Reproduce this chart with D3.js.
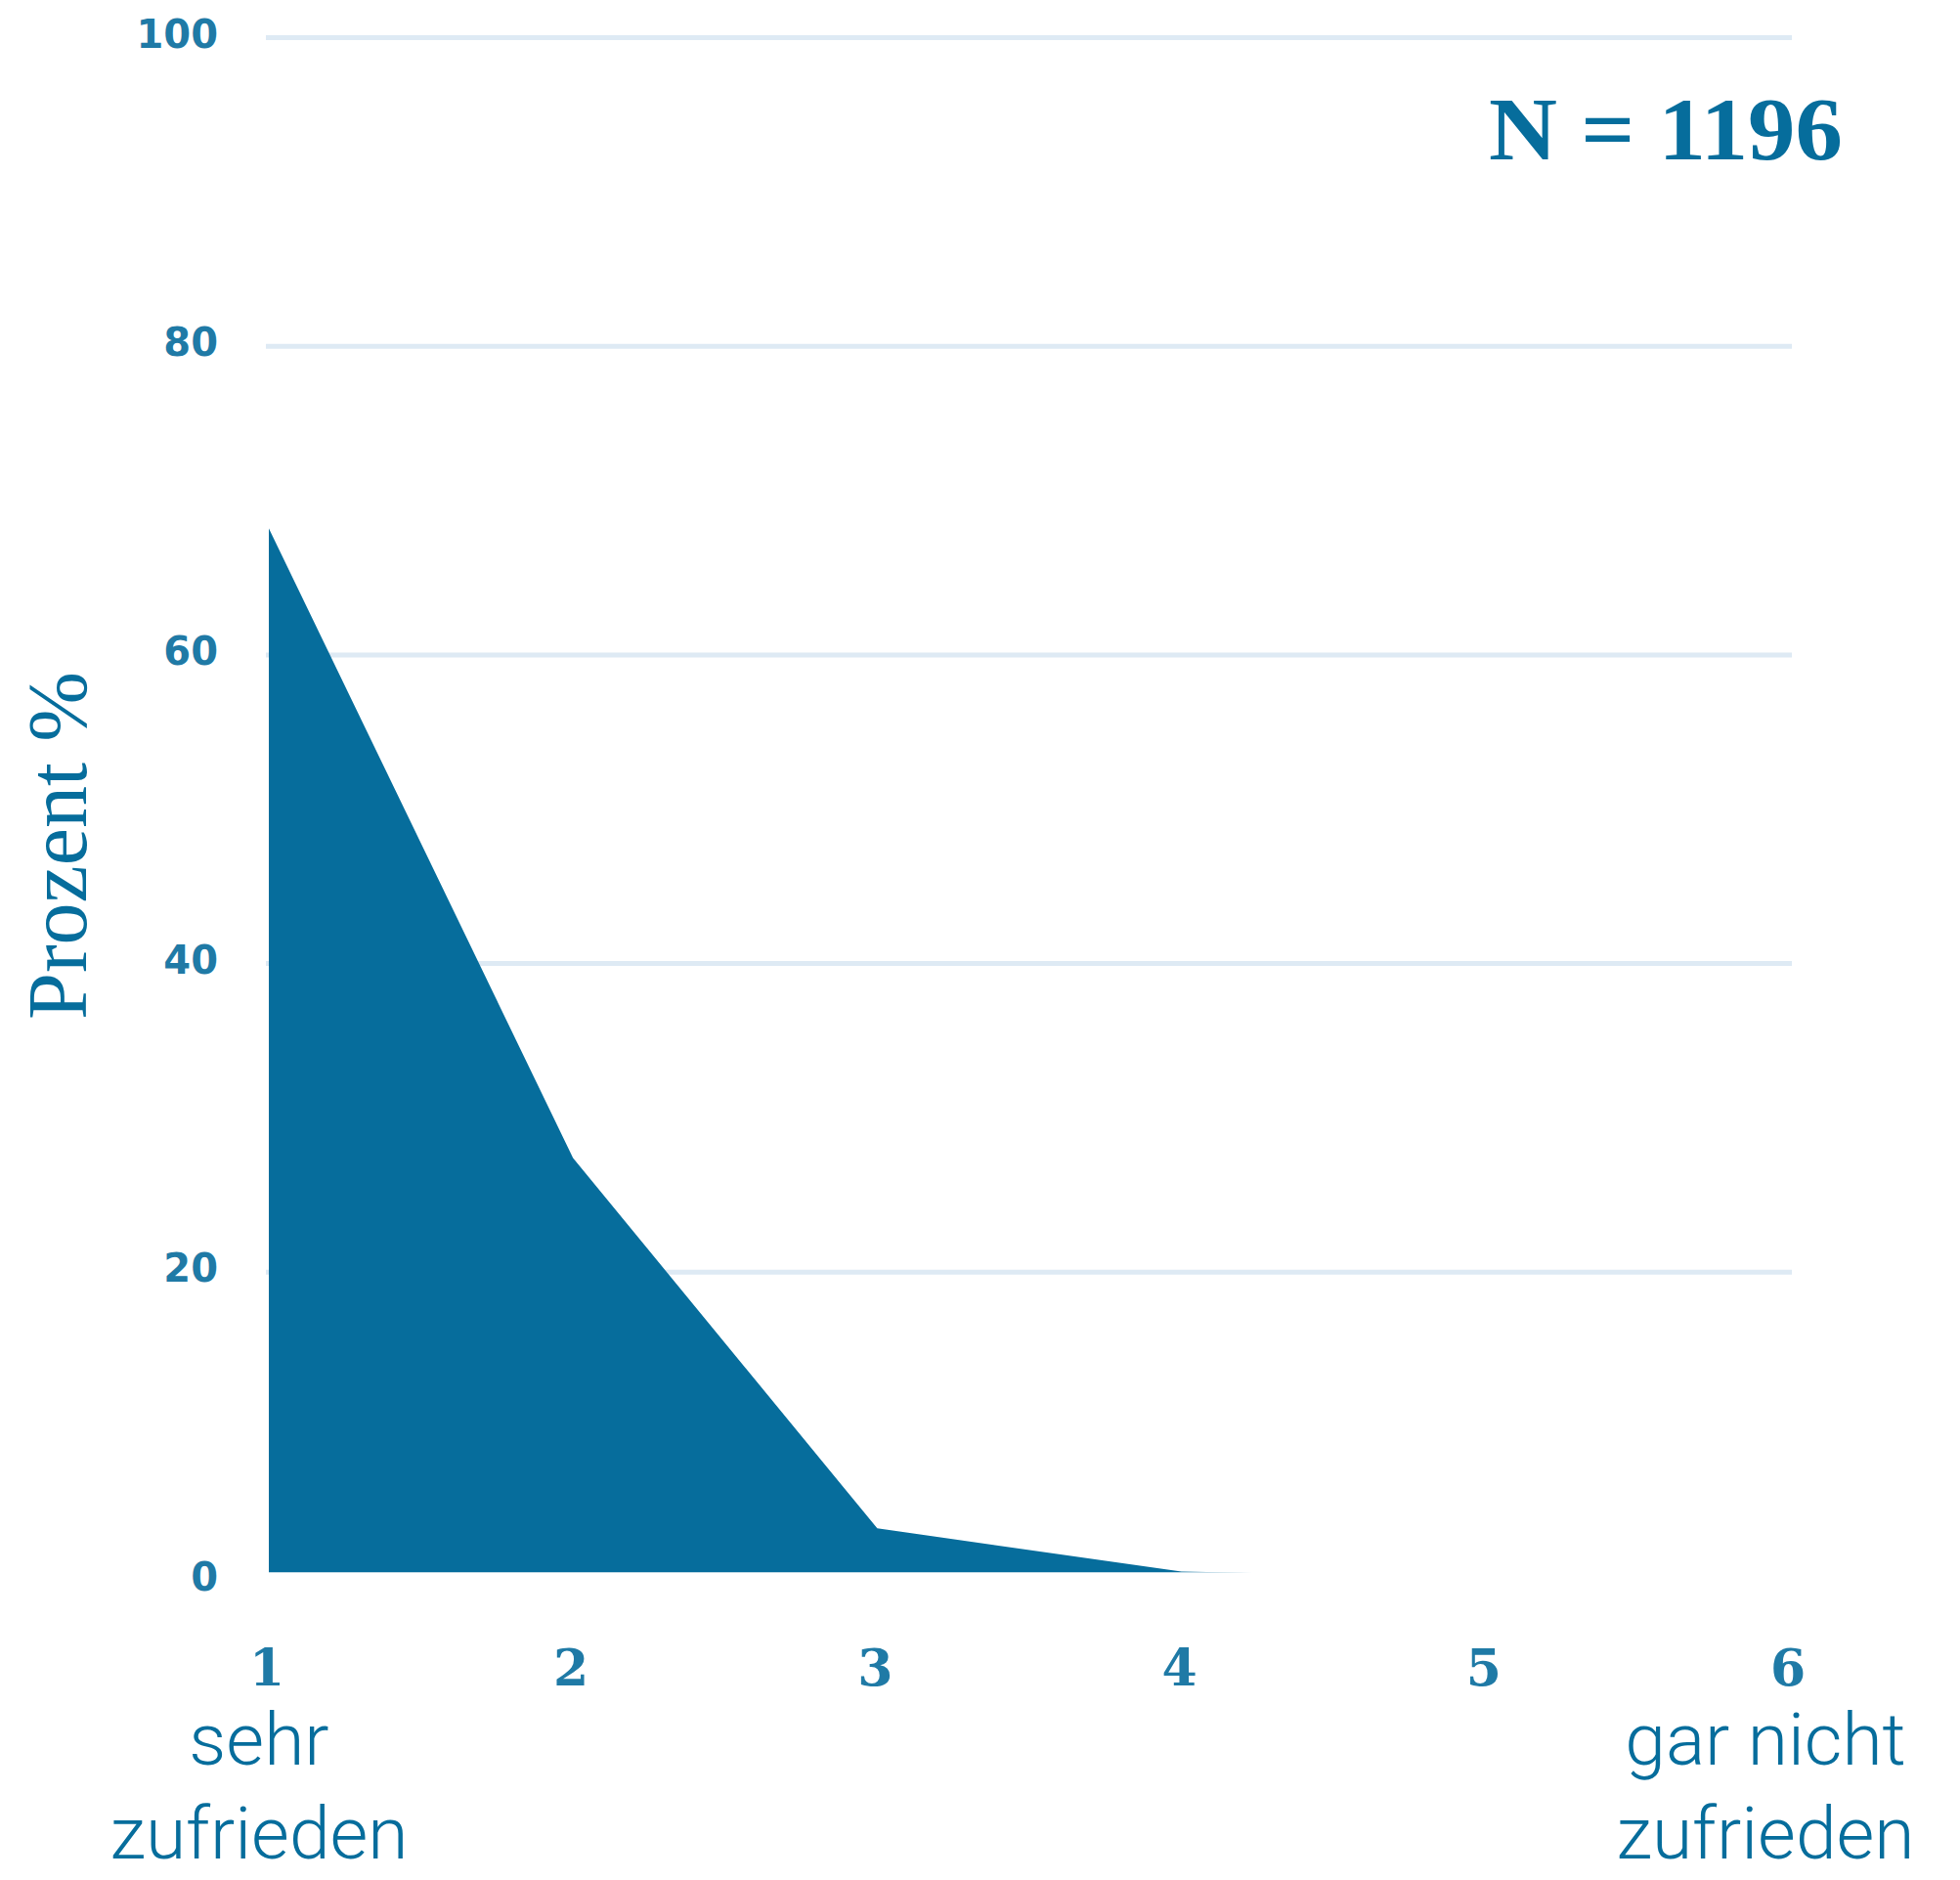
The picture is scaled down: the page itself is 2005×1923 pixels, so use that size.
<!DOCTYPE html>
<html>
<head>
<meta charset="utf-8">
<script src="https://cdn.jsdelivr.net/npm/d3@7"></script>
<style>
  html, body { margin: 0; padding: 0; background: #ffffff; }
  svg { display: block; }
</style>
</head>
<body>
<div id="chart"></div>
<script>
// ---- data ----
const categories = [1, 2, 3, 4, 5, 6];
const percentValues = [68.2, 27.4, 3.4, 0.6, 0.2, 0.0];
const yTickValues = [0, 20, 40, 60, 80, 100];
const gridValues = [20, 40, 60, 80, 100];
const leftAnchorLines = ["sehr", "zufrieden"];
const rightAnchorLines = ["gar nicht", "zufrieden"];
const sampleLabel = "N = 1196";
const yAxisTitle = "Prozent %";

// ---- layout ----
const W = 2005, H = 1923;
const blue = "#066d9c";
const gridColor = "#deeaf4";

const svg = d3.select("#chart").append("svg")
  .attr("width", W).attr("height", H)
  .attr("viewBox", `0 0 ${W} ${H}`);

svg.append("rect").attr("width", W).attr("height", H).attr("fill", "#fff");

const x = d3.scaleLinear().domain([1, 6]).range([275, 1831]);
const y = d3.scaleLinear().domain([0, 100]).range([1617, 38.5]);

// gridlines
svg.append("g").selectAll("line").data(gridValues).join("line")
  .attr("x1", x(1) - 3).attr("x2", x(6) + 2)
  .attr("y1", d => y(d)).attr("y2", d => y(d))
  .attr("stroke", gridColor).attr("stroke-width", 5);

// plot clip (area baseline sits slightly above the zero line)
const plotBottom = 1608.3;
svg.append("defs").append("clipPath").attr("id", "plotClip")
  .append("rect").attr("x", 0).attr("y", 0).attr("width", W).attr("height", plotBottom);

const series = categories.map((c, i) => ({ c, v: percentValues[i] }));
const area = d3.area()
  .x(d => x(d.c))
  .y0(y(0))
  .y1(d => y(d.v))
  .curve(d3.curveLinear);

svg.append("path")
  .datum(series)
  .attr("d", area)
  .attr("fill", blue)
  .attr("clip-path", "url(#plotClip)");

// y tick labels
svg.append("g").selectAll("text").data(yTickValues).join("text")
  .attr("x", 223)
  .attr("y", d => y(d) - 4)
  .attr("text-anchor", "end")
  .attr("dominant-baseline", "central")
  .attr("font-family", "DejaVu Sans, sans-serif")
  .attr("font-weight", "bold")
  .attr("font-size", 40)
  .attr("fill", "#1f7aa6")
  .text(d => d);

// x tick labels
svg.append("g").selectAll("text").data(categories).join("text")
  .attr("x", d => x(d) - 2)
  .attr("y", 1724)
  .attr("text-anchor", "middle")
  .attr("font-family", "DejaVu Serif, serif")
  .attr("font-weight", "bold")
  .attr("font-size", 52)
  .attr("fill", "#1f7aa6")
  .text(d => d);

// anchor labels
function anchorText(lines, cx) {
  svg.append("g").selectAll("text").data(lines).join("text")
    .attr("x", cx)
    .attr("y", (d, i) => 1805 + i * 96)
    .attr("text-anchor", "middle")
    .attr("font-family", "Roboto, 'Open Sans', sans-serif")
    .attr("font-weight", 300)
    .attr("font-size", 75)
    .attr("fill", blue)
    .text(d => d);
}
anchorText(leftAnchorLines, x(1) - 10);
anchorText(rightAnchorLines, x(6) - 25);

// N label
svg.append("text")
  .attr("x", 1523).attr("y", 163)
  .attr("font-family", "Liberation Serif, 'Times New Roman', serif")
  .attr("font-weight", "bold")
  .attr("font-size", 92)
  .attr("textLength", 362)
  .attr("lengthAdjust", "spacingAndGlyphs")
  .attr("fill", blue)
  .text(sampleLabel);

// y axis title
svg.append("text")
  .attr("transform", "translate(88,865) rotate(-90)")
  .attr("text-anchor", "middle")
  .attr("font-family", "Liberation Serif, 'Times New Roman', serif")
  .attr("font-size", 86)
  .attr("fill", blue)
  .text(yAxisTitle);
</script>
</body>
</html>
